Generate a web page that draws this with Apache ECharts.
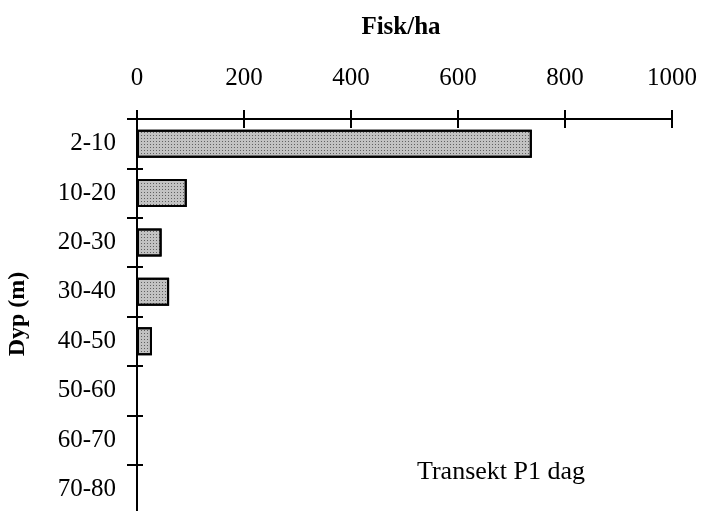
<!DOCTYPE html>
<html>
<head>
<meta charset="utf-8">
<script src="https://cdn.jsdelivr.net/npm/echarts@6/dist/echarts.min.js"></script>
<style>
  html, body { margin: 0; padding: 0; background: #fff; }
  #chart { width: 703px; height: 511px; }
</style>
</head>
<body>
<div id="chart"></div>
<script>
// Depth intervals (m), top to bottom
const depthBins = ['2-10', '10-20', '20-30', '30-40', '40-50', '50-60', '60-70', '70-80'];
// Fish density per hectare in each depth interval
const fishPerHa = [738, 93, 46, 60, 28, 0, 0, 0];
// Horizontal axis range and step
const xMin = 0;
const xMax = 1000;
const xStep = 200;

const serif = '"Liberation Serif", "DejaVu Serif", serif';
const black = '#000';

const chart = echarts.init(document.getElementById('chart'), null, { renderer: 'canvas' });

// Plot area; the lowest depth band runs off the bottom edge of the page
const grid = { left: 137, right: 31, top: 119, height: 395, containLabel: false, outerBoundsMode: 'none' };

// Two copies of each axis: one with outward ticks, one with inward ticks,
// so the ticks cross the axis line.
const xAxisBase = {
  type: 'value', position: 'top', min: xMin, max: xMax, interval: xStep,
  axisLine: { show: true, lineStyle: { color: black, width: 2 } },
  splitLine: { show: false }
};
const yAxisBase = {
  type: 'category', data: depthBins, inverse: true, position: 'left',
  axisLine: { show: true, lineStyle: { color: black, width: 2 } },
  splitLine: { show: false }
};

chart.setOption({
  animation: false,
  backgroundColor: '#fff',
  grid: grid,
  title: {
    text: 'Fisk/ha', left: 396, top: 10, textAlign: 'center',
    textStyle: { fontFamily: serif, fontWeight: 'bold', fontSize: 25, color: black }
  },
  xAxis: [
    Object.assign({}, xAxisBase, {
      axisTick: { show: true, inside: false, length: 9, lineStyle: { color: black, width: 2 } },
      axisLabel: {
        show: true, margin: 28, fontFamily: serif, fontSize: 25, color: black,
        formatter: v => String(v)
      }
    }),
    Object.assign({}, xAxisBase, {
      axisTick: { show: true, inside: true, length: 9, lineStyle: { color: black, width: 2 } },
      axisLabel: { show: false }
    })
  ],
  yAxis: [
    Object.assign({}, yAxisBase, {
      axisTick: { show: true, inside: false, length: 10, lineStyle: { color: black, width: 2 } },
      axisLabel: { show: true, margin: 21, fontFamily: serif, fontSize: 25, color: black }
    }),
    Object.assign({}, yAxisBase, {
      axisTick: { show: true, inside: true, length: 6, lineStyle: { color: black, width: 2 } },
      axisLabel: { show: false }
    })
  ],
  series: [{
    type: 'bar',
    xAxisIndex: 0,
    yAxisIndex: 0,
    data: fishPerHa,
    barWidth: 28,
    itemStyle: {
      color: '#c2c2c2',
      borderColor: black,
      borderWidth: 2,
      // fine dark speckle over the grey fill
      decal: {
        symbol: 'rect', symbolSize: 1, color: 'rgba(0,0,0,0.5)',
        dashArrayX: [1, 2], dashArrayY: [1, 2], rotation: 0
      }
    }
  }],
  graphic: [
    {
      type: 'text', x: 18, y: 314, rotation: Math.PI / 2,
      style: {
        text: 'Dyp (m)', fontFamily: serif, fontWeight: 'bold', fontSize: 24,
        fill: black, textAlign: 'center', textVerticalAlign: 'middle'
      }
    },
    {
      type: 'text', x: 501, y: 472,
      style: {
        text: 'Transekt P1 dag', fontFamily: serif, fontSize: 26,
        fill: black, textAlign: 'center', textVerticalAlign: 'middle'
      }
    }
  ]
});
</script>
</body>
</html>
